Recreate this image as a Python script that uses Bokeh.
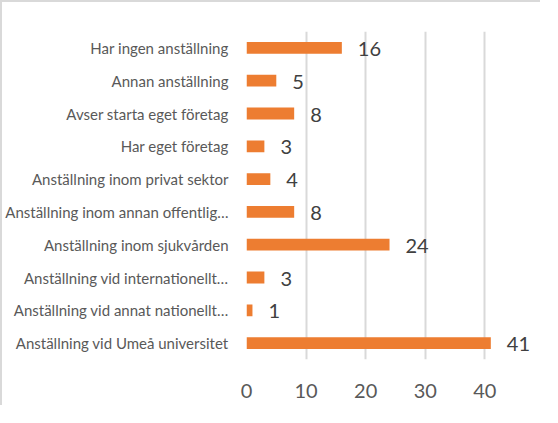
from bokeh.plotting import figure
from bokeh.models import ColumnDataSource, LabelSet, Range1d, FactorRange, FixedTicker
from bokeh.core.properties import value
from bokeh.embed import file_html
from bokeh.resources import INLINE

categories = [
    "Har ingen anställning",
    "Annan anställning",
    "Avser starta eget företag",
    "Har eget företag",
    "Anställning inom privat sektor",
    "Anställning inom annan offentlig…",
    "Anställning inom sjukvården",
    "Anställning vid internationellt…",
    "Anställning vid annat nationellt…",
    "Anställning vid Umeå universitet",
]
values = [16, 5, 8, 3, 4, 8, 24, 3, 1, 41]
x_ticks = [0, 10, 20, 30, 40]

cats_bottom_up = list(reversed(categories))
source = ColumnDataSource(data=dict(cat=categories, val=values, lbl=[str(v) for v in values]))

p = figure(
    width=540, height=405,
    y_range=FactorRange(factors=cats_bottom_up, range_padding=0),
    x_range=Range1d(0, 49),
    output_backend="svg", toolbar_location=None,
)
p.min_border_left = 242
p.min_border_right = 4
p.min_border_top = 29
p.min_border_bottom = 48
p.styles = {"border-top": "2px solid #d9d9d9", "border-left": "2px solid #d9d9d9"}

p.hbar(y="cat", right="val", left=0, height=0.36, source=source,
       fill_color="#ED7D31", line_color=None)

labels = LabelSet(x="val", y="cat", text="lbl", source=source, x_offset=16, y_offset=-1,
                  text_baseline="middle", text_font=value("Lato"), text_font_size="20px",
                  text_color="#404040")
p.add_layout(labels)

p.outline_line_color = None
p.ygrid.grid_line_color = None
p.xgrid.grid_line_color = "#d9d9d9"
p.xgrid.grid_line_width = 2
p.xaxis.ticker = FixedTicker(ticks=x_ticks)
p.xaxis.axis_line_color = None
p.xaxis.major_tick_line_color = None
p.xaxis.minor_tick_line_color = None
p.xaxis.major_label_text_font = "Lato"
p.xaxis.major_label_text_font_size = "20px"
p.xaxis.major_label_text_color = "#595959"
p.xaxis.major_label_standoff = 18

p.yaxis.axis_line_color = None
p.yaxis.major_tick_line_color = None
p.yaxis.minor_tick_line_color = None
p.yaxis.major_label_text_font = "Lato"
p.yaxis.major_label_text_font_size = "15px"
p.yaxis.major_label_text_color = "#595959"
p.yaxis.major_label_standoff = 12

open("out.html", "w").write(file_html(p, INLINE))
